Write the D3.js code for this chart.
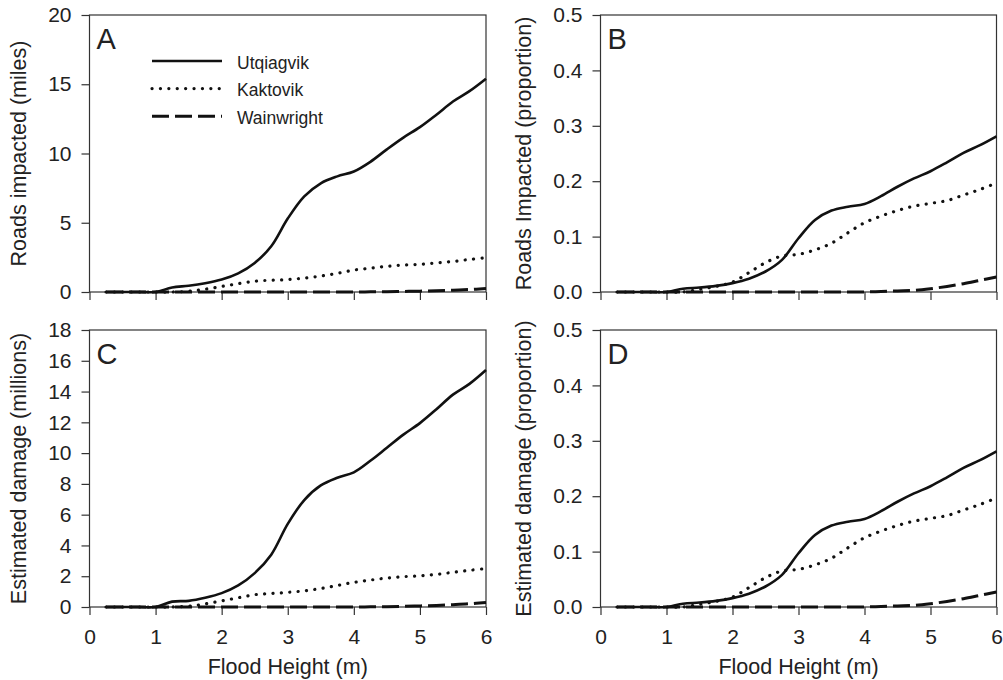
<!DOCTYPE html>
<html>
<head>
<meta charset="utf-8">
<script src="https://cdn.jsdelivr.net/npm/d3@7"></script>
<style>
  body { margin: 0; background: #fff; }
  svg { font-family: "Liberation Sans", Arial, sans-serif; }
</style>
</head>
<body>
<div id="container"></div>
<script>
// flood heights (m) shared by every series
const heights = [0.25, 0.5, 0.75, 1.0, 1.25, 1.5, 1.75, 2.0, 2.25, 2.5, 2.75, 3.0,
                 3.25, 3.5, 3.75, 4.0, 4.25, 4.5, 4.75, 5.0, 5.25, 5.5, 5.75, 6.0];

const towns = ['Utqiagvik', 'Kaktovik', 'Wainwright'];

// A - roads impacted (miles)
const utqMiles  = [0, 0, 0, 0, 0.33, 0.45, 0.63, 0.9, 1.35, 2.1, 3.3, 5.3, 6.9, 7.85, 8.35, 8.7, 9.4, 10.3, 11.15, 11.9, 12.8, 13.75, 14.5, 15.4];
const kakMiles  = [0, 0, 0, 0, 0, 0.05, 0.2, 0.4, 0.6, 0.78, 0.85, 0.9, 1.0, 1.15, 1.35, 1.58, 1.72, 1.85, 1.95, 2.0, 2.1, 2.2, 2.35, 2.47];
const wainMiles = [0, 0, 0, 0, 0, 0, 0, 0, 0, 0, 0, 0, 0, 0, 0, 0, 0.01, 0.02, 0.04, 0.06, 0.09, 0.13, 0.18, 0.25];

// B - roads impacted (proportion)
const utqRoadProp  = [0, 0, 0, 0, 0.006, 0.008, 0.011, 0.016, 0.024, 0.037, 0.058, 0.097, 0.13, 0.147, 0.154, 0.159, 0.173, 0.19, 0.205, 0.218, 0.234, 0.251, 0.265, 0.281];
const kakRoadProp  = [0, 0, 0, 0, 0, 0.005, 0.01, 0.018, 0.035, 0.053, 0.065, 0.068, 0.076, 0.088, 0.107, 0.125, 0.137, 0.147, 0.155, 0.16, 0.165, 0.175, 0.185, 0.197];
const wainRoadProp = [0, 0, 0, 0, 0, 0, 0, 0, 0, 0, 0, 0, 0, 0, 0, 0, 0.001, 0.002, 0.003, 0.006, 0.01, 0.015, 0.021, 0.027];

// C - estimated damage (millions)
const utqDamage  = [0, 0, 0, 0, 0.35, 0.4, 0.6, 0.9, 1.4, 2.2, 3.4, 5.4, 6.95, 7.9, 8.4, 8.75, 9.5, 10.35, 11.2, 11.95, 12.85, 13.8, 14.5, 15.4];
const kakDamage  = [0, 0, 0, 0, 0, 0.05, 0.2, 0.4, 0.6, 0.8, 0.88, 0.95, 1.05, 1.2, 1.4, 1.6, 1.75, 1.88, 1.97, 2.03, 2.12, 2.25, 2.38, 2.5];
const wainDamage = [0, 0, 0, 0, 0, 0, 0, 0, 0, 0, 0, 0, 0, 0, 0, 0, 0.01, 0.02, 0.04, 0.07, 0.1, 0.15, 0.21, 0.3];

// D - estimated damage (proportion)
const utqDamageProp  = [0, 0, 0, 0, 0.006, 0.008, 0.011, 0.016, 0.024, 0.037, 0.058, 0.097, 0.13, 0.147, 0.154, 0.159, 0.173, 0.19, 0.205, 0.218, 0.234, 0.251, 0.265, 0.281];
const kakDamageProp  = [0, 0, 0, 0, 0, 0.005, 0.01, 0.018, 0.035, 0.053, 0.065, 0.068, 0.076, 0.088, 0.107, 0.125, 0.137, 0.147, 0.155, 0.16, 0.165, 0.175, 0.185, 0.197];
const wainDamageProp = [0, 0, 0, 0, 0, 0, 0, 0, 0, 0, 0, 0, 0, 0, 0, 0, 0.001, 0.002, 0.003, 0.006, 0.01, 0.015, 0.021, 0.027];

// tick values
const xTicks = [0, 1, 2, 3, 4, 5, 6];
const milesTicks = [0, 5, 10, 15, 20];
const millionsTicks = [0, 2, 4, 6, 8, 10, 12, 14, 16, 18];
const propTicks = [0, 0.1, 0.2, 0.3, 0.4, 0.5];

// chart size
const width = 1003;
const height = 680;

// line styles for each town
const styles = [
    { dash: null, width: 2.6, cap: 'butt' },
    { dash: '0.1 8.3', width: 3.2, cap: 'round' },
    { dash: '17 6', width: 3, cap: 'butt' }
];

const panels = [
    { letter: 'A', left: 89.5, right: 486, top: 15, bottom: 292, yMax: 20, ticks: milesTicks, fmt: d3.format('d'),
      title: 'Roads impacted (miles)', titleX: 26, series: [utqMiles, kakMiles, wainMiles], xLabels: false },
    { letter: 'B', left: 600.5, right: 996.5, top: 15, bottom: 292, yMax: 0.5, ticks: propTicks, fmt: d3.format('.1f'),
      title: 'Roads Impacted (proportion)', titleX: 531, series: [utqRoadProp, kakRoadProp, wainRoadProp], xLabels: false },
    { letter: 'C', left: 89.5, right: 486, top: 330, bottom: 607, yMax: 18, ticks: millionsTicks, fmt: d3.format('d'),
      title: 'Estimated damage (millions)', titleX: 26, series: [utqDamage, kakDamage, wainDamage], xLabels: true },
    { letter: 'D', left: 600.5, right: 996.5, top: 330, bottom: 607, yMax: 0.5, ticks: propTicks, fmt: d3.format('.1f'),
      title: 'Estimated damage (proportion)', titleX: 531, series: [utqDamageProp, kakDamageProp, wainDamageProp], xLabels: true }
];

const svg = d3.select('#container')
    .append('svg')
    .attr('width', width)
    .attr('height', height);

panels.forEach((p) => {
    const xScale = d3.scaleLinear().domain([0, 6]).range([p.left, p.right]);
    const yScale = d3.scaleLinear().domain([0, p.yMax]).range([p.bottom, p.top]);

    const g = svg.append('g').attr('class', 'panel');

    // axes
    const xAxis = d3.axisBottom(xScale)
        .tickValues(xTicks)
        .tickSize(8)
        .tickSizeOuter(0)
        .tickPadding(14)
        .tickFormat(p.xLabels ? d3.format('d') : '');
    const yAxis = d3.axisLeft(yScale)
        .tickValues(p.ticks)
        .tickSize(8)
        .tickSizeOuter(0)
        .tickPadding(10)
        .tickFormat(p.fmt);

    const gx = g.append('g')
        .attr('transform', `translate(0, ${p.bottom})`)
        .call(xAxis);
    const gy = g.append('g')
        .attr('transform', `translate(${p.left}, 0)`)
        .call(yAxis);

    [gx, gy].forEach((a) => {
        a.select('.domain').remove();
        a.selectAll('line').attr('stroke', '#333').attr('stroke-width', 1.2);
        a.selectAll('text').attr('fill', '#222').style('font-size', '21px');
    });

    // frame
    g.append('rect')
        .attr('x', p.left)
        .attr('y', p.top)
        .attr('width', p.right - p.left)
        .attr('height', p.bottom - p.top)
        .attr('fill', 'none')
        .attr('stroke', '#333')
        .attr('stroke-width', 1.2);

    // lines
    const line = d3.line()
        .x((d, i) => xScale(heights[i]))
        .y((d) => yScale(d))
        .curve(d3.curveCatmullRom.alpha(0.5));

    p.series.forEach((vals, k) => {
        g.append('path')
            .datum(vals)
            .attr('d', line)
            .attr('fill', 'none')
            .attr('stroke', '#111')
            .attr('stroke-width', styles[k].width)
            .attr('stroke-linecap', styles[k].cap)
            .attr('stroke-dasharray', styles[k].dash);
    });

    // panel letter
    g.append('text')
        .attr('x', p.left + 7)
        .attr('y', p.top + 34)
        .style('font-size', '29px')
        .attr('fill', '#222')
        .text(p.letter);

    // y title
    g.append('text')
        .attr('transform', `translate(${p.titleX}, ${(p.top + p.bottom) / 2}) rotate(-90)`)
        .attr('text-anchor', 'middle')
        .style('font-size', '21.5px')
        .attr('fill', '#222')
        .text(p.title);

    // x title
    if (p.xLabels) {
        g.append('text')
            .attr('x', (p.left + p.right) / 2)
            .attr('y', 674)
            .attr('text-anchor', 'middle')
            .style('font-size', '21.5px')
            .attr('fill', '#222')
            .text('Flood Height (m)');
    }
});

// legend in panel A
const legend = svg.append('g').attr('class', 'legend');
towns.forEach((t, k) => {
    const y = 61 + k * 27.6;
    legend.append('line')
        .attr('x1', 152)
        .attr('x2', 222)
        .attr('y1', y)
        .attr('y2', y)
        .attr('stroke', '#111')
        .attr('stroke-width', styles[k].width)
        .attr('stroke-linecap', styles[k].cap)
        .attr('stroke-dasharray', styles[k].dash);
    legend.append('text')
        .attr('x', 237)
        .attr('y', y + 1.5)
        .attr('dy', '0.35em')
        .style('font-size', '17.5px')
        .attr('fill', '#222')
        .text(t);
});
</script>
</body>
</html>
